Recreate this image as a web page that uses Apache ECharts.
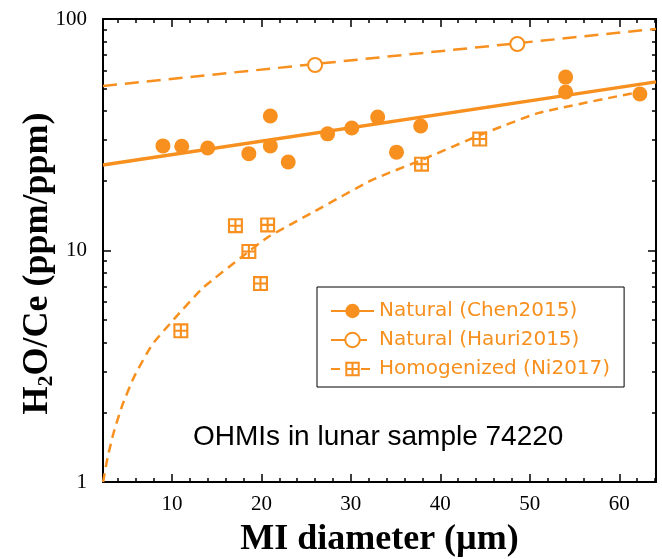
<!DOCTYPE html>
<html>
<head>
<meta charset="utf-8">
<script src="https://cdn.jsdelivr.net/npm/echarts/dist/echarts.min.js"></script>
<style>
  html, body { margin: 0; padding: 0; background: #fff; }
  #chart { width: 662px; height: 559px; }
</style>
</head>
<body>
<div id="chart"></div>
<script>
// Natural (Chen2015): measured inclusions
const chenX = [9.0, 11.1, 14.0, 18.6, 21.0, 21.0, 23.0, 27.4, 30.1, 33.0, 35.1, 37.8, 54.0, 54.0, 62.3]
const chenY = [28.3, 28.2, 27.7, 26.2, 38.1, 28.3, 24.1, 31.9, 33.8, 37.7, 26.6, 34.5, 56.1, 48.4, 47.4]
// Natural (Hauri2015)
const hauriX = [26.0, 48.6]
const hauriY = [63.3, 78.0]
// Homogenized (Ni2017)
const niX = [11.0, 17.1, 18.6, 19.9, 20.7, 37.9, 44.4]
const niY = [4.5, 12.8, 9.9, 7.2, 12.9, 23.6, 30.3]

// fitted trends
const chenFitX = [2.3, 64.1]
const chenFitY = [23.4, 53.5]
const hauriFitX = [2.3, 64.1]
const hauriFitY = [51.4, 90.6]
const niFitX = [2.31, 2.8, 3.5, 4.5, 5.8, 7.77, 10.33, 13.46, 17.8, 20.7, 26.0, 32.4, 37.9, 44.4, 51.0, 62.2]
const niFitY = [1.0, 1.27, 1.64, 2.17, 2.86, 3.91, 5.1, 6.89, 9.37, 11.4, 14.8, 20.2, 24.6, 31.5, 39.3, 48.4]

const xMajor = [10, 20, 30, 40, 50, 60]
const xMinor = [4, 6, 8, 12, 14, 16, 18, 22, 24, 26, 28, 32, 34, 36, 38, 42, 44, 46, 48, 52, 54, 56, 58, 62, 64]
const yMajor = [1, 10, 100]
const yMinor = [2, 3, 4, 5, 6, 7, 8, 9, 20, 30, 40, 50, 60, 70, 80, 90]

const names = ['Natural (Chen2015)', 'Natural (Hauri2015)', 'Homogenized (Ni2017)']

const orange = '#f7901e'
const serif = '"Liberation Serif", "DejaVu Serif", serif'
const sans = '"DejaVu Sans", sans-serif'

// hollow square split into four cells
const gridBox = 'path://M0 0 H10 V10 H0 Z M1.4 1.4 V4.3 H4.3 V1.4 Z M5.7 1.4 V4.3 H8.6 V1.4 Z M1.4 5.7 V8.6 H4.3 V5.7 Z M5.7 5.7 V8.6 H8.6 V5.7 Z'

const zip = (xs, ys) => xs.map((x, i) => [x, ys[i]])

const chart = echarts.init(document.getElementById('chart'))

const xRange = { min: 2.3, max: 64.1 }
const frame = { show: true, lineStyle: { color: '#000', width: 2 } }

const xAxisOf = (position, values, len, withLine, withLabel) => ({
  type: 'value',
  position,
  ...xRange,
  axisLine: withLine ? frame : { show: false },
  axisTick: { show: true, inside: true, length: len, customValues: values, lineStyle: { color: '#000', width: 1.5 } },
  axisLabel: withLabel
    ? { show: true, customValues: values, margin: 12, color: '#000', fontFamily: serif, fontSize: 21 }
    : { show: false },
  splitLine: { show: false }
})

const yAxisOf = (position, values, len, withLine, withLabel) => ({
  type: 'log',
  logBase: 10,
  position,
  min: 1,
  max: 100,
  axisLine: withLine ? frame : { show: false },
  axisTick: { show: true, inside: true, length: len, customValues: values, lineStyle: { color: '#000', width: 1.5 } },
  axisLabel: withLabel
    ? { show: true, customValues: values, margin: 16, color: '#000', fontFamily: serif, fontSize: 21 }
    : { show: false },
  splitLine: { show: false },
  minorTick: { show: false }
})

const xAxes = [
  xAxisOf('bottom', xMajor, 8, true, true),
  xAxisOf('bottom', xMinor, 4, false, false),
  xAxisOf('top', xMajor, 8, true, false),
  xAxisOf('top', xMinor, 4, false, false)
]
xAxes[0].name = 'MI diameter (\u00b5m)'
xAxes[0].nameLocation = 'middle'
xAxes[0].nameGap = 40
xAxes[0].nameMoveOverlap = false
xAxes[0].nameTextStyle = { fontFamily: serif, fontWeight: 'bold', fontSize: 36, color: '#000' }

const yAxes = [
  yAxisOf('left', yMajor, 8, true, true),
  yAxisOf('left', yMinor, 4, false, false),
  yAxisOf('right', yMajor, 8, true, false),
  yAxisOf('right', yMinor, 4, false, false)
]
yAxes[0].name = '{a|H}{s|2}{a|O/Ce (ppm/ppm)}'
yAxes[0].nameLocation = 'middle'
yAxes[0].nameRotate = 90
yAxes[0].nameGap = 46
yAxes[0].nameMoveOverlap = false
yAxes[0].nameTextStyle = {
  fontFamily: serif, fontWeight: 'bold', fontSize: 36, color: '#000',
  padding: [0, 26, 0, 0],
  rich: {
    a: { fontFamily: serif, fontWeight: 'bold', fontSize: 36, color: '#000' },
    s: { fontFamily: serif, fontWeight: 'bold', fontSize: 22, color: '#000', padding: [16, 0, 0, 0] }
  }
}

chart.setOption({
  animation: false,
  grid: { left: 103, right: 6, top: 19, bottom: 77, containLabel: false, outerBoundsMode: 'none' },
  xAxis: xAxes,
  yAxis: yAxes,
  legend: {
    data: names,
    orient: 'vertical',
    left: 317,
    top: 287,
    padding: [14, 14, 8, 13],
    itemGap: 9,
    itemWidth: 43,
    itemHeight: 18,
    borderColor: '#000',
    borderWidth: 1,
    backgroundColor: '#fff',
    selectedMode: false,
    textStyle: { color: orange, fontFamily: sans, fontSize: 20 }
  },
  graphic: [{
    type: 'text',
    left: 193,
    top: 423,
    style: { text: 'OHMIs in lunar sample 74220', fill: '#000', font: '28px "Liberation Sans", Arial, sans-serif' }
  }],
  series: [
    {
      name: names[0], type: 'line', data: zip(chenFitX, chenFitY),
      symbol: 'circle', symbolSize: 15, showSymbol: false,
      lineStyle: { color: orange, width: 3.5 }, itemStyle: { color: orange },
      emphasis: { disabled: true }, z: 2
    },
    {
      name: names[0], type: 'scatter', data: zip(chenX, chenY),
      symbol: 'circle', symbolSize: 15, itemStyle: { color: orange, opacity: 1 },
      emphasis: { disabled: true }, z: 3
    },
    {
      name: names[1], type: 'line', data: zip(hauriFitX, hauriFitY),
      symbol: 'emptyCircle', symbolSize: 14, showSymbol: false,
      lineStyle: { color: orange, width: 2.5, type: [14, 8] },
      itemStyle: { color: orange, borderColor: orange, borderWidth: 2 },
      emphasis: { disabled: true }, z: 2
    },
    {
      name: names[1], type: 'scatter', data: zip(hauriX, hauriY),
      symbol: 'emptyCircle', symbolSize: 14,
      itemStyle: { color: orange, borderColor: orange, borderWidth: 2, opacity: 1 },
      emphasis: { disabled: true }, z: 3
    },
    {
      name: names[2], type: 'line', data: zip(niFitX, niFitY), smooth: 0.15,
      symbol: gridBox, symbolSize: 15, showSymbol: false,
      lineStyle: { color: orange, width: 2.5, type: [9, 6] },
      itemStyle: { color: orange },
      emphasis: { disabled: true }, z: 2
    },
    {
      name: names[2], type: 'scatter', data: zip(niX, niY),
      symbol: gridBox, symbolSize: 15, itemStyle: { color: orange, opacity: 1 },
      emphasis: { disabled: true }, z: 3
    }
  ]
})
</script>
</body>
</html>
